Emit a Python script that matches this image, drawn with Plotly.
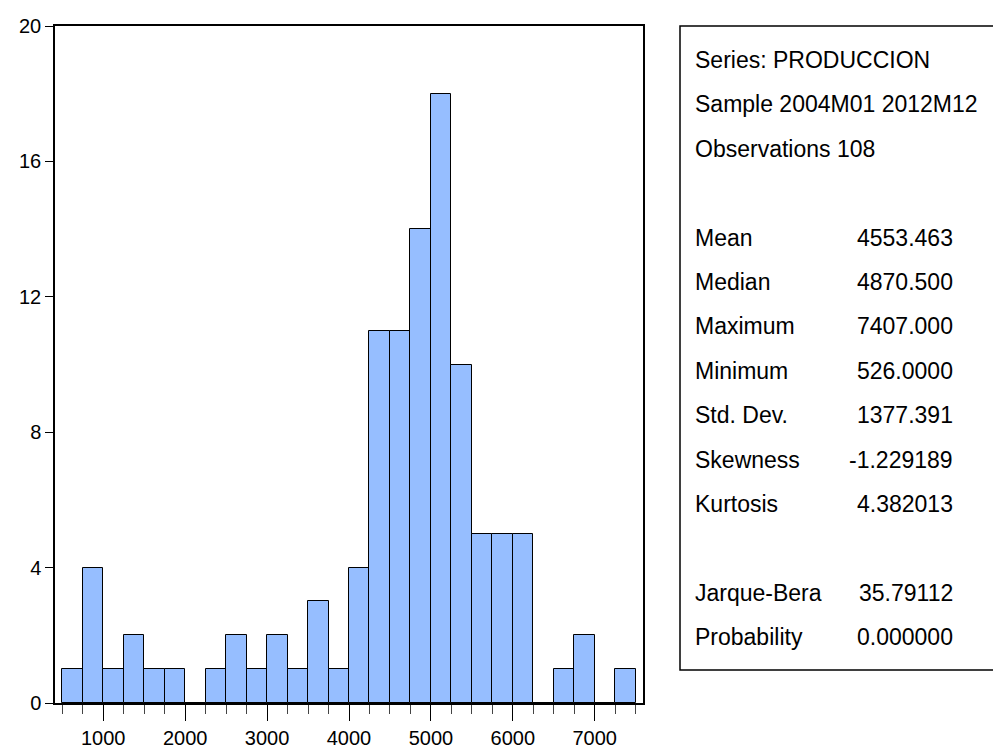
import plotly.graph_objects as go

# Histogram of PRODUCCION, bins of width 250 starting at 500
bin_start = 500
bin_width = 250
counts = [1, 4, 1, 2, 1, 1, 0, 1, 2, 1, 2, 1, 3, 1,
          4, 11, 11, 14, 18, 10, 5, 5, 5, 0, 1, 2, 0, 1]

x_ticks = [1000, 2000, 3000, 4000, 5000, 6000, 7000]
y_ticks = [0, 4, 8, 12, 16, 20]

header_lines = ["Series: PRODUCCION", "Sample 2004M01 2012M12", "Observations 108"]
stat_names = ["Mean", "Median", "Maximum", "Minimum", "Std. Dev.", "Skewness",
              "Kurtosis", "", "Jarque-Bera", "Probability"]
stat_values = ["4553.463", "4870.500", "7407.000", "526.0000", "1377.391",
               "-1.229189", "4.382013", "", "35.79112", "0.000000"]

centers = [bin_start + bin_width * (i + 0.5) for i in range(len(counts))]

FONT = "Liberation Sans, Arial, sans-serif"

W, H = 993, 753
L, R, T, B = 55, 350, 26, 50
pw, ph = W - L - R, H - T - B


def px_x(x):
    return (x - L) / pw


def px_y(y):
    return (H - B - y) / ph


fig = go.Figure()
fig.add_trace(go.Bar(
    x=centers, y=counts, width=bin_width,
    marker=dict(color="#96BEFF", line=dict(color="black", width=1)),
    showlegend=False,
))

fig.update_layout(
    width=W, height=H,
    margin=dict(l=L, r=R, t=T, b=B),
    paper_bgcolor="white", plot_bgcolor="white",
    bargap=0,
    font=dict(family=FONT, size=20, color="black"),
    xaxis=dict(
        range=[411, 7589], tickvals=x_ticks, ticktext=[str(v) for v in x_ticks],
        ticks="outside", ticklen=16, tickcolor="black", tickwidth=1,
        minor=dict(dtick=250, tick0=0, ticks="outside", ticklen=9,
                   tickcolor="#444", tickwidth=1),
        showline=True, linecolor="black", linewidth=2, mirror=True,
        showgrid=False, zeroline=False, fixedrange=True, automargin=False,
    ),
    yaxis=dict(
        range=[0, 20], tickvals=y_ticks, ticktext=[str(v) for v in y_ticks],
        ticks="outside", ticklen=8, tickcolor="black", tickwidth=1,
        showline=True, linecolor="black", linewidth=1.5, mirror=True,
        showgrid=False, zeroline=False, fixedrange=True, automargin=False,
    ),
)

# statistics panel
fig.add_shape(type="rect", xref="paper", yref="paper",
              x0=px_x(680), x1=px_x(996), y0=px_y(670), y1=px_y(26),
              line=dict(color="black", width=1.5), fillcolor="rgba(0,0,0,0)")

row_step = 44.4
y0 = 60
for i, txt in enumerate(header_lines):
    fig.add_annotation(xref="paper", yref="paper", x=px_x(693), y=px_y(y0 + i * row_step),
                       text=txt, showarrow=False, xanchor="left", yanchor="middle",
                       font=dict(size=23))
for i, (name, val) in enumerate(zip(stat_names, stat_values)):
    if not name:
        continue
    yy = px_y(y0 + (i + 4) * row_step)
    fig.add_annotation(xref="paper", yref="paper", x=px_x(693), y=yy,
                       text=name, showarrow=False, xanchor="left", yanchor="middle",
                       font=dict(size=23))
    fig.add_annotation(xref="paper", yref="paper", x=px_x(955), y=yy,
                       text=val, showarrow=False, xanchor="right", yanchor="middle",
                       font=dict(size=23))

fig.write_html("out.html")
